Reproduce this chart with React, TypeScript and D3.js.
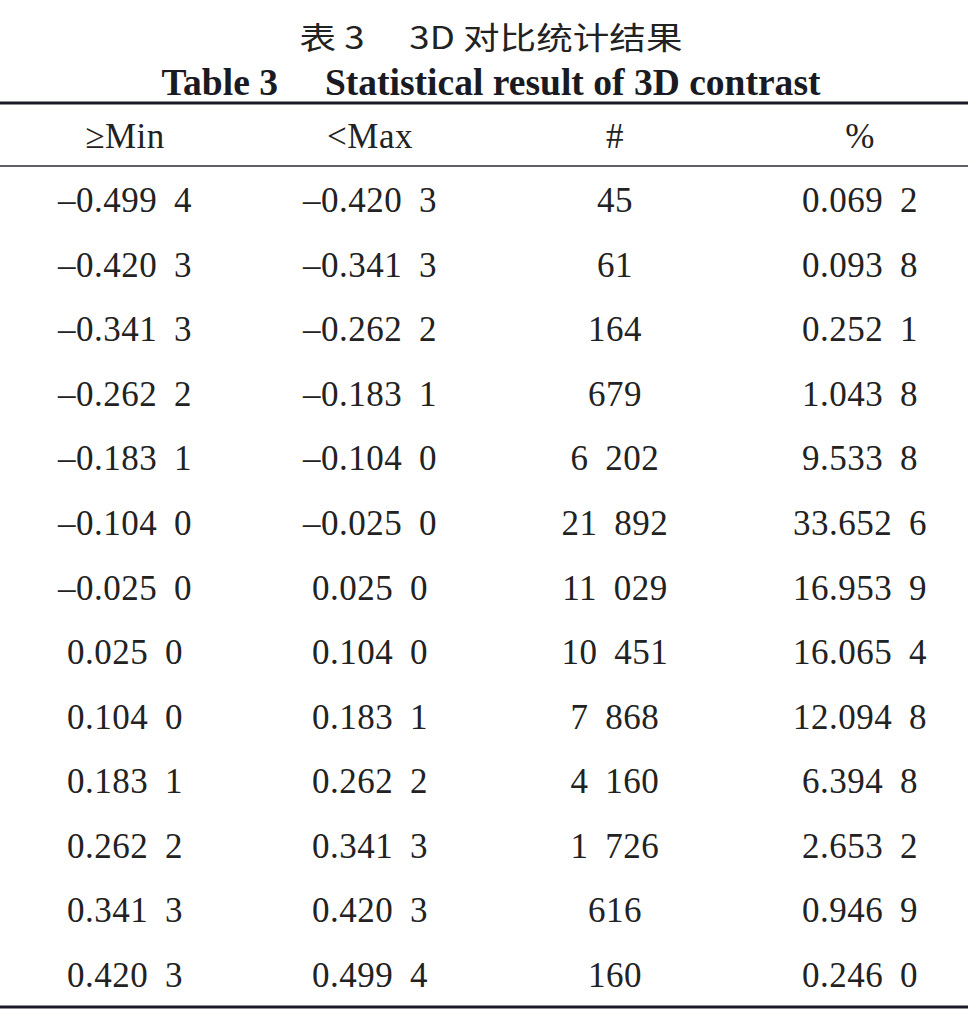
import React from "react";
import * as d3 from "d3";

const titleZh = "表 3\u2003 3D 对比统计结果";
const titleEn = "Table 3\u2003 Statistical result of 3D contrast";
const headers = ["≥Min", "<Max", "#", "%"];
const minVals = ["–0.499 4", "–0.420 3", "–0.341 3", "–0.262 2", "–0.183 1", "–0.104 0", "–0.025 0", "0.025 0", "0.104 0", "0.183 1", "0.262 2", "0.341 3", "0.420 3"];
const maxVals = ["–0.420 3", "–0.341 3", "–0.262 2", "–0.183 1", "–0.104 0", "–0.025 0", "0.025 0", "0.104 0", "0.183 1", "0.262 2", "0.341 3", "0.420 3", "0.499 4"];
const counts = ["45", "61", "164", "679", "6 202", "21 892", "11 029", "10 451", "7 868", "4 160", "1 726", "616", "160"];
const percents = ["0.069 2", "0.093 8", "0.252 1", "1.043 8", "9.533 8", "33.652 6", "16.953 9", "16.065 4", "12.094 8", "6.394 8", "2.653 2", "0.946 9", "0.246 0"];

const W = 968;
const H = 1019;

export default function App() {
  const cols = [minVals, maxVals, counts, percents];
  const x = d3.scalePoint<number>().domain(d3.range(4)).range([125, 860]);
  const y = d3.scalePoint<number>().domain(d3.range(minVals.length)).range([212, 987]);
  const fmt = (s: string) => s.replace(/ /g, " \u2009");
  const ink = "#222";
  return (
    <svg width={W} height={H} style={{ display: "block", position: "absolute", left: 0, top: 0, background: "#fff" }}>
      <rect x={0} y={0} width={W} height={H} fill="#fff" />
      <text x={491} y={49} textAnchor="middle" fontFamily="'Noto Sans CJK SC'" fontSize={31} fill={ink}
        textLength={383} lengthAdjust="spacingAndGlyphs">{titleZh}</text>
      <text x={491} y={95} textAnchor="middle" fontFamily="'Liberation Serif', serif" fontWeight="bold" fontSize={37} fill="#1a1a22"
        textLength={659} lengthAdjust="spacingAndGlyphs">{titleEn}</text>
      <line x1={0} x2={W} y1={103} y2={103} stroke="#1a1a28" strokeWidth={3} />
      <line x1={0} x2={W} y1={166} y2={166} stroke="#2a2a35" strokeWidth={1.6} />
      <line x1={0} x2={W} y1={1007} y2={1007} stroke="#1a1a28" strokeWidth={3.2} />
      {headers.map((h, i) => (
        <text key={h} x={x(i)} y={148} textAnchor="middle" fontFamily="'Liberation Serif', serif" fontSize={35}
          fill={ink} letterSpacing={0.5}>{h}</text>
      ))}
      {cols.map((col, ci) =>
        col.map((v, ri) => (
          <text key={ci + "-" + ri} x={x(ci)} y={y(ri)} textAnchor="middle" fontFamily="'Liberation Serif', serif"
            fontSize={35} fill={ink} letterSpacing={0.5}>{fmt(v)}</text>
        ))
      )}
    </svg>
  );
}
